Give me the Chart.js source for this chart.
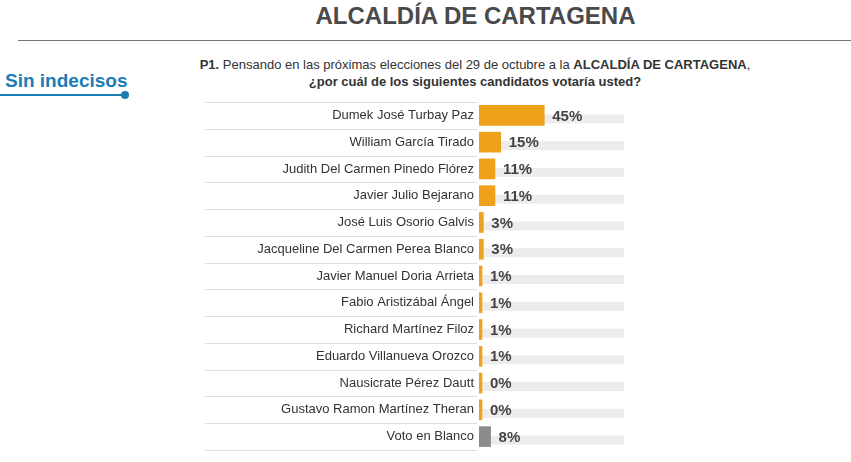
<!DOCTYPE html>
<html>
<head>
<meta charset="utf-8">
<script src="https://cdn.jsdelivr.net/npm/chart.js@4/dist/chart.umd.min.js"></script>
<style>
  body { margin: 0; background: #fff; font-family: 'Liberation Sans', Arial, sans-serif; }
  #wrap { position: relative; width: 851px; height: 462px; overflow: hidden; }
  canvas { position: absolute; left: 0; top: 0; }
  .title { position: absolute; top: 2px; left: 0; width: 951px; text-align: center; font-size: 24px; font-weight: bold; color: #4a4a4a; }
  .rule { position: absolute; top: 40px; left: 18px; width: 840px; height: 1px; background: #777; }
  .q { position: absolute; top: 56px; left: 100px; width: 750px; text-align: center; font-size: 13px; color: #333; line-height: 17px; }
  .side { position: absolute; top: 70px; left: 5px; font-size: 19px; font-weight: bold; color: #1b7db3; }
  .uline { position: absolute; top: 94px; left: 0; width: 124px; height: 2px; background: #1b7db3; }
  .dot { position: absolute; top: 91px; left: 121px; width: 8px; height: 8px; border-radius: 4px; background: #1b7db3; }
</style>
</head>
<body>
<div id="wrap">
  <div class="title">ALCALDÍA DE CARTAGENA</div>
  <div class="rule"></div>
  <div class="side">Sin indecisos</div>
  <div class="uline"></div><div class="dot"></div>
  <div class="q"><b>P1.</b> Pensando en las próximas elecciones del 29 de octubre a la <b>ALCALDÍA DE CARTAGENA</b>,<br><b>¿por cuál de los siguientes candidatos votaría usted?</b></div>
  <canvas id="chart" width="851" height="462"></canvas>
</div>
<script>
const candidates = [
  'Dumek José Turbay Paz', 'William García Tirado', 'Judith Del Carmen Pinedo Flórez',
  'Javier Julio Bejarano', 'José Luis Osorio Galvis', 'Jacqueline Del Carmen Perea Blanco',
  'Javier Manuel Doria Arrieta', 'Fabio Aristizábal Ángel', 'Richard Martínez Filoz',
  'Eduardo Villanueva Orozco', 'Nausicrate Pérez Dautt', 'Gustavo Ramon Martínez Theran',
  'Voto en Blanco'
];
const votes = [45, 15, 11, 11, 3, 3, 1, 1, 1, 1, 0, 0, 8];
const track = candidates.map(() => 100);

const barColors = candidates.map((c, i) => i === candidates.length - 1 ? '#8c8c8c' : '#f0a11c');

const decor = {
  id: 'decor',
  beforeDatasetsDraw(chart) {
    const ctx = chart.ctx, x = chart.scales.x, y = chart.scales.y;
    const step = (y.getPixelForValue(1) - y.getPixelForValue(0));
    ctx.save();
    // tracks
    ctx.fillStyle = '#ececec';
    candidates.forEach((c, i) => {
      const cy = y.getPixelForValue(i);
      ctx.fillRect(x.getPixelForValue(0), cy - 1, x.getPixelForValue(100) - x.getPixelForValue(0), 9);
    });
    // separators
    ctx.strokeStyle = '#dedede';
    ctx.lineWidth = 1;
    for (let i = 0; i <= candidates.length; i++) {
      const ly = Math.round(y.getPixelForValue(i) - step / 2) + 0.5;
      ctx.beginPath(); ctx.moveTo(205, ly); ctx.lineTo(477, ly); ctx.stroke();
    }
    // labels
    ctx.fillStyle = '#333';
    ctx.font = '13px "Liberation Sans", Arial, sans-serif';
    ctx.textAlign = 'right'; ctx.textBaseline = 'middle';
    candidates.forEach((c, i) => ctx.fillText(c, 474, y.getPixelForValue(i)));
    ctx.restore();
  },
  afterDatasetsDraw(chart) {
    const ctx = chart.ctx, x = chart.scales.x, y = chart.scales.y;
    ctx.save();
    ctx.fillStyle = '#444';
    ctx.font = 'bold 15px "Liberation Sans", Arial, sans-serif';
    ctx.textAlign = 'left'; ctx.textBaseline = 'middle';
    votes.forEach((v, i) => {
      const bx = Math.max(x.getPixelForValue(v), x.getPixelForValue(0) + 3);
      ctx.fillText(v + '%', bx + 8, y.getPixelForValue(i) + 1);
    });
    ctx.restore();
  }
};

new Chart(document.getElementById('chart'), {
  type: 'bar',
  data: {
    labels: candidates,
    datasets: [{
      data: votes,
      backgroundColor: barColors,
      borderColor: barColors.map(c => c === '#f0a11c' ? '#e0900f' : '#7a7a7a'),
      borderWidth: 0,
      barThickness: 20,
      minBarLength: 3
    }]
  },
  options: {
    indexAxis: 'y',
    responsive: false,
    animation: false,
    layout: { padding: { left: 479, right: 227, top: 102, bottom: 12 } },
    plugins: { legend: { display: false }, tooltip: { enabled: false } },
    scales: {
      x: { display: false, min: 0, max: 100 },
      y: { display: false }
    }
  },
  plugins: [decor]
});
</script>
</body>
</html>
